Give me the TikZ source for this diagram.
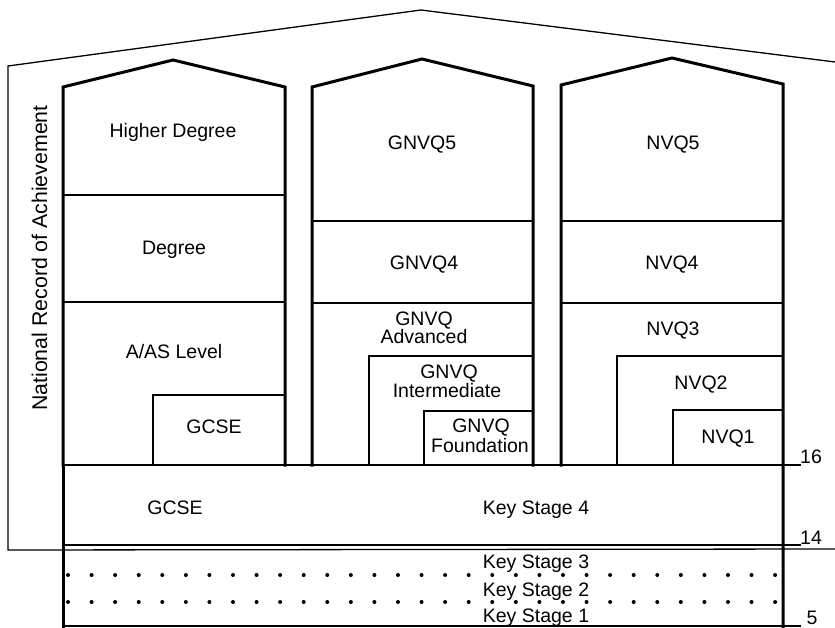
\documentclass[tikz,border=0pt]{standalone}
\usepackage{fontspec}
\setmainfont{Liberation Sans}
\begin{document}
\begin{tikzpicture}[x=1pt,y=-1pt,
  heavy/.style={line width=3pt, line join=miter, line cap=rect},
  medium/.style={line width=2.5pt, line cap=rect},
  light/.style={line width=1.3pt},
  lbl/.style={anchor=base, inner sep=0pt, font=\fontsize{19.5}{18}\selectfont},
  dotmark/.style={fill=black}
]
\useasboundingbox (0,0) rectangle (835,628);
% outer thin frame
\draw[light] (835,62) -- (421,10) -- (8,66) -- (8,550) -- (835,549);
% houses
\draw[heavy] (63,465) -- (63,87) -- (173,60) -- (285,87) -- (285,465);
\draw[heavy] (312,465) -- (312,87) -- (422,59) -- (533,86) -- (533,465);
\draw[heavy] (561,465) -- (561,85) -- (672,58) -- (783,84) -- (783,627);
% column 1 dividers
\draw[medium] (63,195) -- (285,195);
\draw[medium] (63,302) -- (285,302);
\draw[medium] (153,465) -- (153,395) -- (285,395);
% column 2 dividers
\draw[medium] (312,221) -- (533,221);
\draw[medium] (312,303) -- (533,303);
\draw[medium] (369,465) -- (369,356) -- (533,356);
\draw[medium] (424,465) -- (424,411) -- (533,411);
% column 3 dividers
\draw[medium] (561,221) -- (783,221);
\draw[medium] (561,303) -- (783,303);
\draw[medium] (617,465) -- (617,356) -- (783,356);
\draw[medium] (673,465) -- (673,410) -- (783,410);
% key stage bands
\draw[medium] (63,465) -- (800,465);
\draw[medium] (63,545) -- (800,545);
\draw[heavy] (63,465) -- (63,626);
\draw[medium] (63,626) -- (800,626);
% dots
\foreach \i in {0,...,30} {
  \fill[dotmark] (68+23.57*\i,575) circle (2pt);
  \fill[dotmark] (68+23.57*\i,602) circle (2pt);
}
% labels
\node[lbl] (hd) at (173,138) {Higher Degree};
\node[lbl] (dg) at (174,255) {Degree};
\node[lbl] (aas) at (174,358) {A/AS Level};
\node[lbl] (gc1) at (214,433) {GCSE};
\node[lbl] (gc2) at (175,514) {GCSE};
\node[lbl] (ks4) at (536,514) {Key Stage 4};
\node[lbl] (ks3) at (536,568) {Key Stage 3};
\node[lbl] (ks2) at (536,596) {Key Stage 2};
\node[lbl] (ks1) at (536,622) {Key Stage 1};
\node[lbl] (g5) at (422,150) {GNVQ5};
\node[lbl] (g4) at (424,270) {GNVQ4};
\node[lbl] (gadv1) at (424,325) {GNVQ};
\node[lbl] (gadv2) at (424,343) {Advanced};
\node[lbl] (gint1) at (449,378) {GNVQ};
\node[lbl] (gint2) at (447,397) {Intermediate};
\node[lbl] (gfo1) at (481,432) {GNVQ};
\node[lbl] (gfo2) at (480,452) {Foundation};
\node[lbl] (n5) at (673,150) {NVQ5};
\node[lbl] (n4) at (672,270) {NVQ4};
\node[lbl] (n3) at (673,335) {NVQ3};
\node[lbl] (n2) at (701,389) {NVQ2};
\node[lbl] (n1) at (728,443) {NVQ1};
\node[lbl] (t16) at (811,463) {16};
\node[lbl] (t14) at (811,544) {14};
\node[lbl] (t5) at (812,624) {5};
\node[anchor=base, inner sep=0pt, rotate=90, font=\fontsize{21.3}{22}\selectfont] (nra) at (47,258) {National Record of Achievement};
\end{tikzpicture}
\end{document}
